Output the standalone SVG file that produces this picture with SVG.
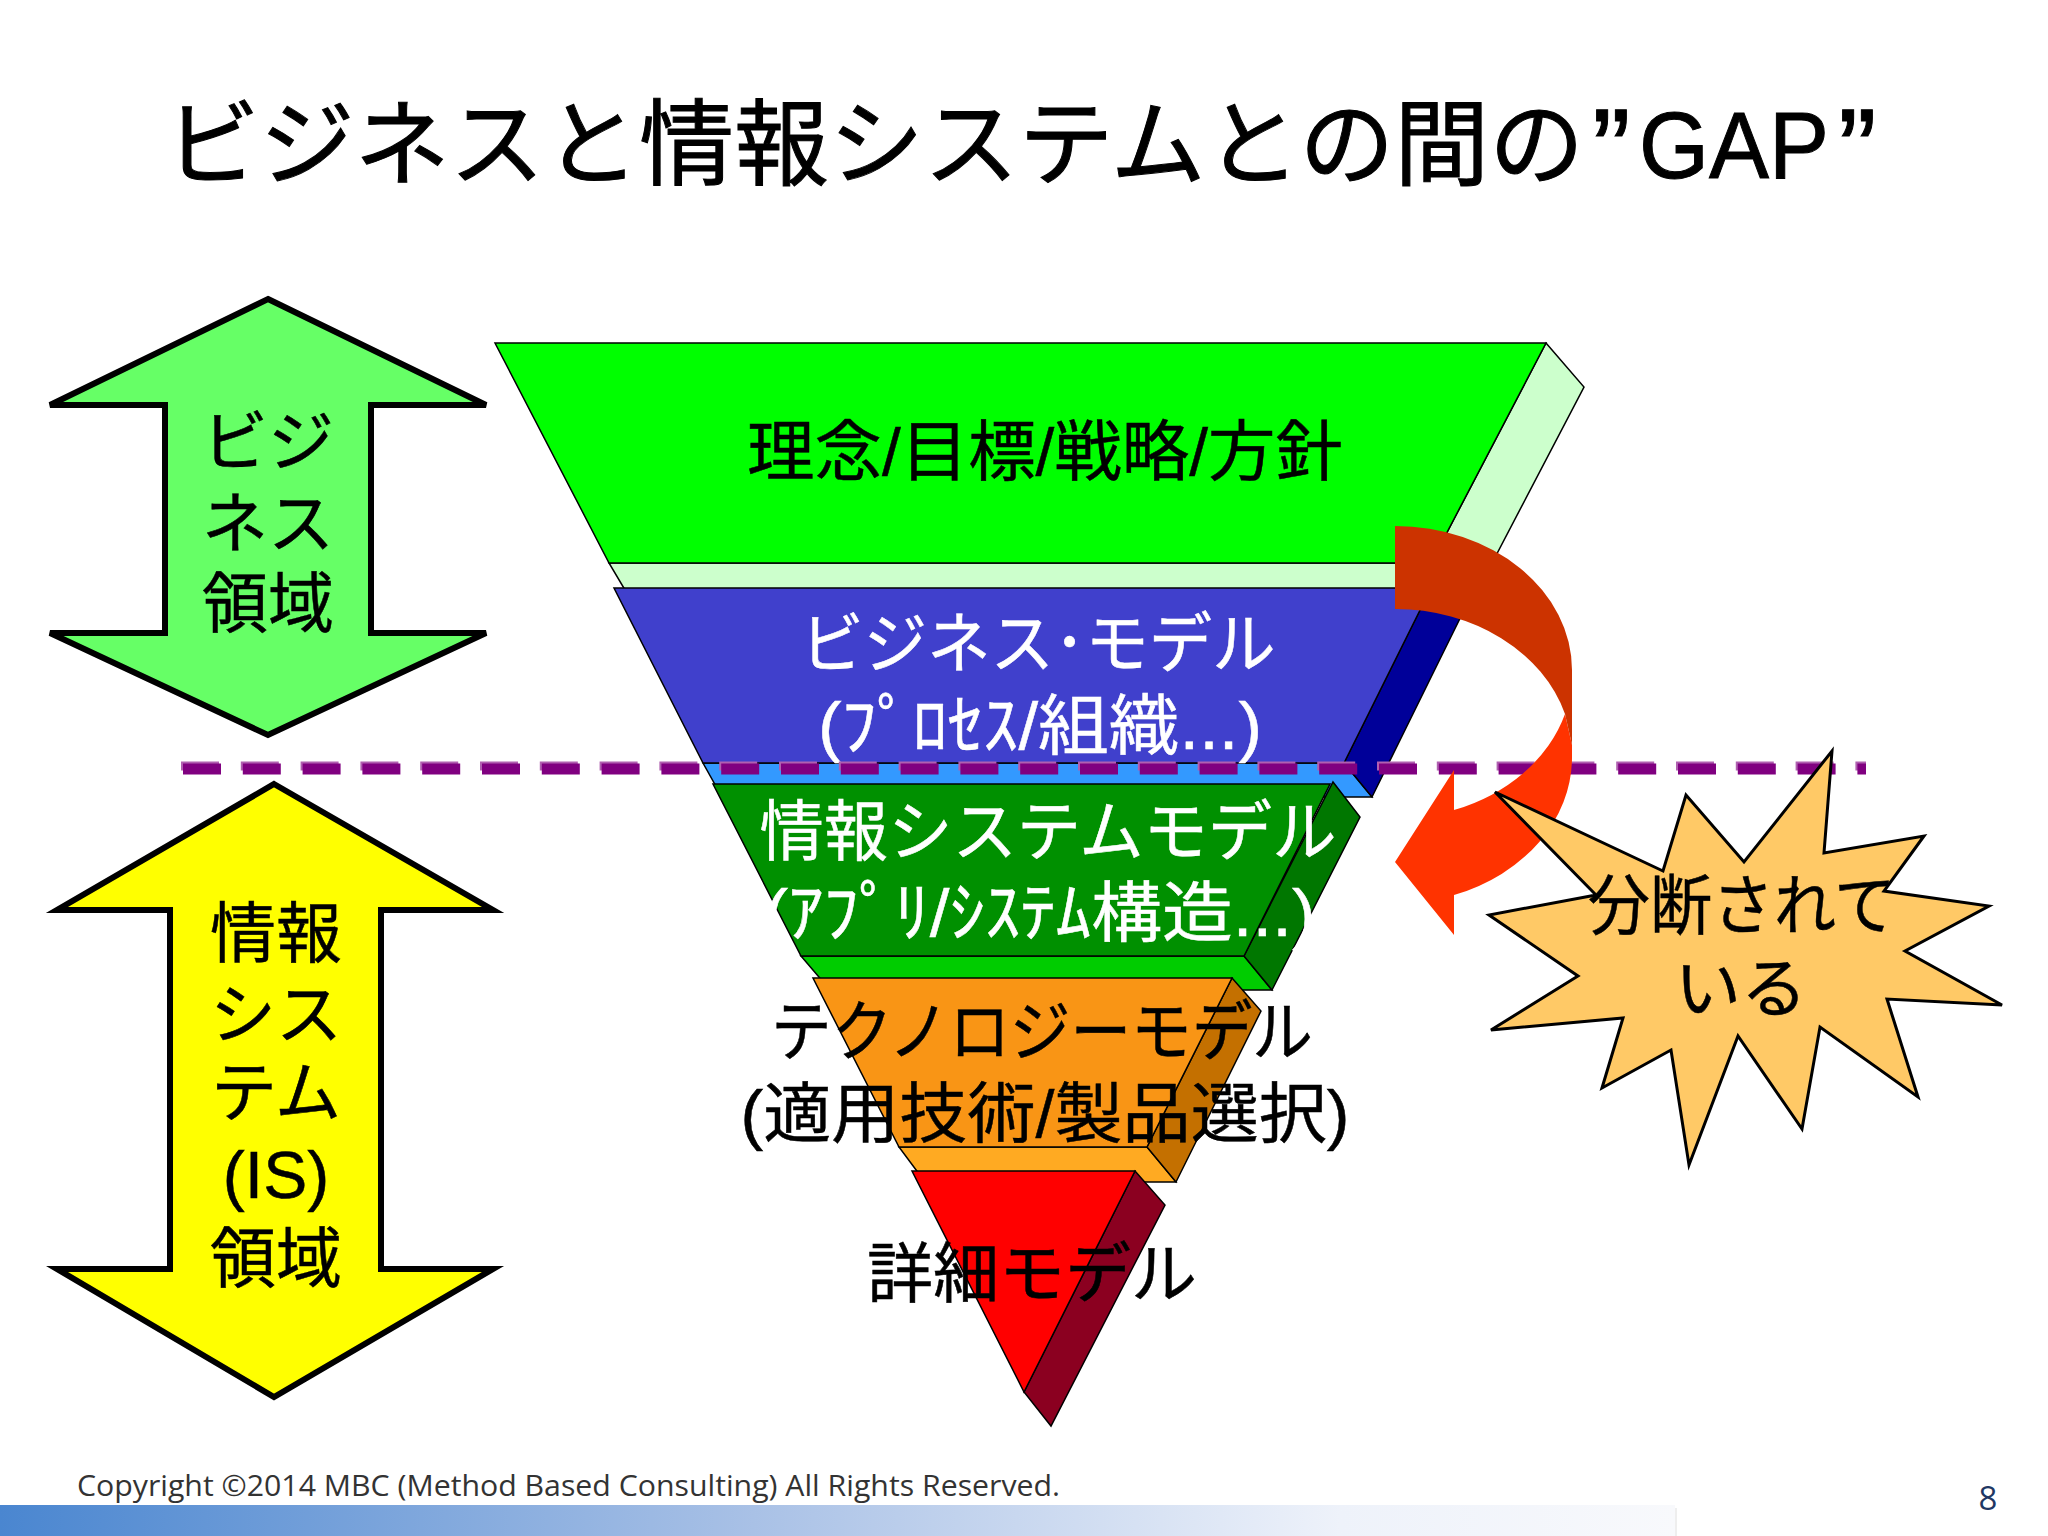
<svg xmlns="http://www.w3.org/2000/svg" width="2048" height="1536" viewBox="0 0 2048 1536">
<defs>
<linearGradient id="bar" x1="0" y1="0" x2="1" y2="0"><stop offset="0" stop-color="#4A86D0"/><stop offset="0.45" stop-color="#A9C1E6"/><stop offset="0.8" stop-color="#EEF2FA"/><stop offset="1" stop-color="#F8F9FC"/></linearGradient>
</defs>
<style>
text{font-family:"Liberation Sans","Noto Sans CJK JP",sans-serif;text-anchor:middle;fill:#000}
.t{font-size:66px;stroke:#000;stroke-width:.5}
.w{fill:#fff;stroke:#fff}
.h{font-size:94px;text-anchor:start;stroke:#000;stroke-width:1}
.q{font-size:116px;text-anchor:start;stroke:#000;stroke-width:1}
.s{stroke:#000;stroke-width:1.5;stroke-linejoin:miter}
.a{stroke:#000;stroke-width:6;stroke-linejoin:miter}
</style>
<rect width="2048" height="1536" fill="#fff"/>
<rect id="footer-bar" x="0" y="1505" width="1675" height="31" fill="url(#bar)"/>
<line x1="1676" y1="1508" x2="1676" y2="1536" stroke="#EEEEEE" stroke-width="2"/>
<g id="title">
<text class="h" x="165" y="178" textLength="1419" lengthAdjust="spacingAndGlyphs">ビジネスと情報システムとの間の</text>
<text class="q" x="1592" y="190">”</text>
<text class="h" x="1639" y="178" textLength="190" lengthAdjust="spacingAndGlyphs">GAP</text>
<text class="q" x="1838" y="190">”</text>
</g>

<g id="arrow-business">
<polygon class="a" fill="#66FF66" points="268,299 486,405 371,405 371,633 486,633 268,735 50,633 165,633 165,405 50,405"/>
<text class="t" x="268" y="465">ビジ</text><text class="t" x="268" y="547">ネス</text><text class="t" x="268" y="627">領域</text>
</g>
<g id="arrow-is">
<polygon class="a" fill="#FFFF00" points="274,784 493,910 381,910 381,1269 493,1269 274,1397 57,1269 170,1269 170,910 57,910"/>
<text class="t" x="276" y="957">情報</text><text class="t" x="276" y="1038">シス</text><text class="t" x="276" y="1116">テム</text><text class="t" x="276" y="1198">(IS)</text><text class="t" x="276" y="1282">領域</text>
</g>

<g id="layer-vision">
<polygon class="s" fill="#CCFFCC" points="1546,343 1584,387 1479,588 1431,563"/>
<polygon class="s" fill="#CCFFCC" points="609,563 1431,563 1460,590 625,590"/>
<polygon class="s" fill="#00FF00" points="495,343 1546,343 1431,563 609,563"/>
<text class="t" x="1045" y="475" textLength="596" lengthAdjust="spacingAndGlyphs">理念/目標/戦略/方針</text>
</g>
<g id="layer-business">
<polygon class="s" fill="#3399FF" points="703,763 1344,763 1372,797 722,797"/>
<polygon class="s" fill="#000099" points="1431,588 1344,763 1372,797 1474,590"/>
<polygon class="s" fill="#4040CC" points="614,588 1431,588 1344,763 703,763"/>
<text class="t w" x="1038" y="667" textLength="475" lengthAdjust="spacingAndGlyphs">ビジネス･モデル</text>
<text class="t w" x="1040" y="749" textLength="444" lengthAdjust="spacingAndGlyphs">(ﾌﾟﾛｾｽ/組織...)</text>
</g>

<g id="connectors">
<line x1="181" y1="766" x2="1866" y2="766" stroke="#B060B0" stroke-width="9" stroke-dasharray="38 21.8"/>
<line x1="183" y1="769" x2="1866" y2="769" stroke="#800080" stroke-width="11" stroke-dasharray="38 21.8"/>
<g id="curved-arrow">
<path fill="#FF3300" d="M1565,714 A177,146 0 0 1 1454,810 L1454,770 L1395,862 L1454,935 L1454,895 A177,146 0 0 0 1572,758 L1572,745 Z"/>
<path fill="#CC3300" d="M1395,526 A177,144 0 0 1 1572,670 L1572,745 L1565,714 A177,146 0 0 0 1395,609 Z"/>
</g>
</g>

<g id="layer-is">
<polygon class="s" fill="#00CC00" points="801,956 1244,956 1272,990 830,990"/>
<polygon class="s" fill="#007700" points="1333,782 1360,817 1272,990 1244,956"/>
<polygon class="s" fill="#009000" points="713,784 1330,784 1244,956 801,956"/>
<text class="t w" x="1048" y="855" textLength="577" lengthAdjust="spacingAndGlyphs">情報システムモデル</text>
<text class="t w" x="1040" y="936" textLength="551" lengthAdjust="spacingAndGlyphs">(ｱﾌﾟﾘ/ｼｽﾃﾑ構造...)</text>
</g>
<g id="layer-tech">
<polygon class="s" fill="#FFAA22" points="899,1147 1147,1147 1176,1182 925,1182"/>
<polygon class="s" fill="#C47000" points="1232,978 1261,1011 1176,1182 1147,1147"/>
<polygon class="s" fill="#F99515" points="813,978 1232,978 1147,1147 899,1147"/>
<text class="t" x="1042" y="1055" textLength="542" lengthAdjust="spacingAndGlyphs">テクノロジーモデル</text>
<text class="t" x="1045" y="1137" textLength="609" lengthAdjust="spacingAndGlyphs">(適用技術/製品選択)</text>
</g>
<g id="layer-detail">
<polygon class="s" fill="#8B0020" points="1135,1171 1165,1205 1051,1426 1024,1392"/>
<polygon class="s" fill="#FF0000" points="912,1171 1135,1171 1024,1392"/>
<text class="t" x="1032" y="1297">詳細モデル</text>
</g>

<g id="burst">
<polygon stroke="#000" stroke-width="3" fill="#FFC966" points="1495,792 1663,871 1686,795 1744,862 1832,751 1824,853 1924,836 1884,891 1989,906 1905,951 2002,1005 1887,999 1918,1097 1820,1027 1802,1129 1738,1036 1689,1165 1671,1050 1602,1088 1623,1018 1491,1030 1578,976 1489,915 1596,895"/>
<text class="t" x="1742" y="929" textLength="308" lengthAdjust="spacingAndGlyphs">分断されて</text>
<text class="t" x="1741" y="1012">いる</text>
</g>

<text id="copyright" x="77" y="1496" font-size="30" textLength="983" lengthAdjust="spacingAndGlyphs" style="text-anchor:start;font-family:'Open Sans',sans-serif;fill:#333">Copyright ©2014 MBC (Method Based Consulting)  All Rights Reserved.</text>
<text id="page" x="1988" y="1510" font-size="33" style="font-family:'Open Sans',sans-serif;fill:#1F3864">8</text>
</svg>
